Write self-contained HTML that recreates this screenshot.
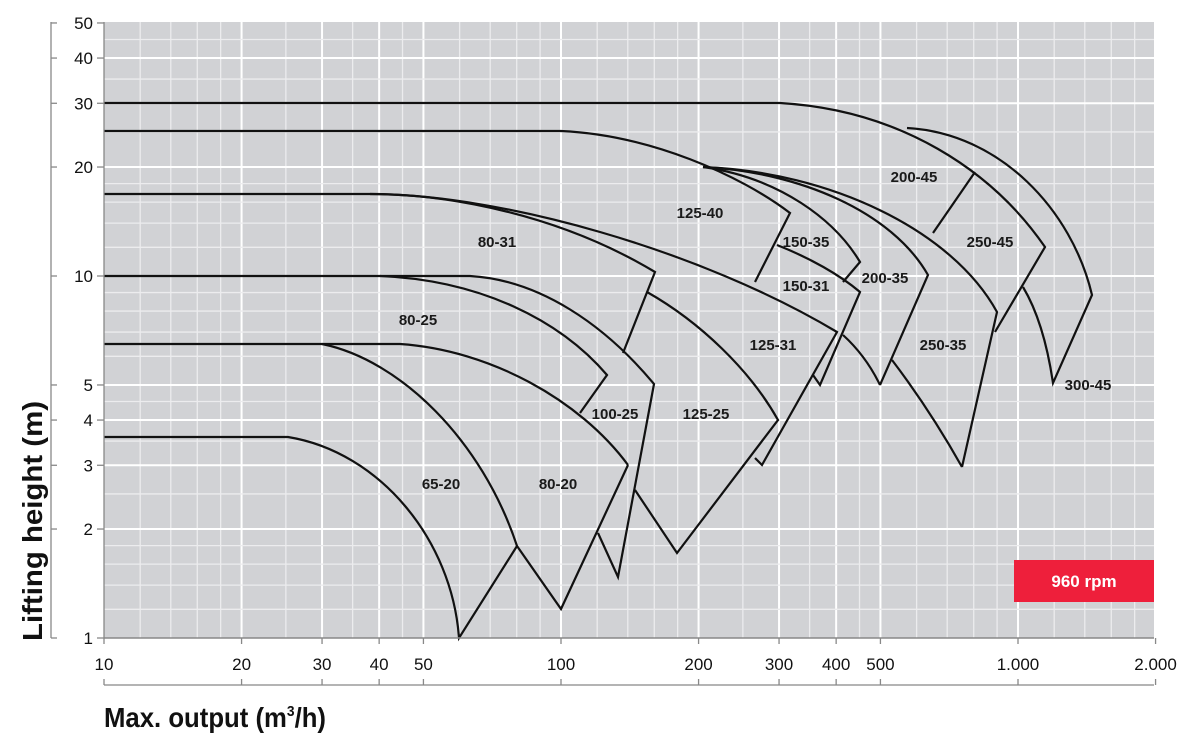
<!DOCTYPE html>
<html><head><meta charset="utf-8"><style>
html,body{margin:0;padding:0;background:#fff;}
svg{display:block;}
.lb{font-family:"Liberation Sans",sans-serif;font-size:15px;font-weight:bold;fill:#1a1a1a;text-anchor:middle;}
.tk{font-family:"Liberation Sans",sans-serif;font-size:17px;fill:#111;}
.ax{font-family:"Liberation Sans Narrow","Liberation Sans",sans-serif;font-weight:bold;font-size:28px;fill:#111;}
</style></head><body>
<svg id="s" width="1200" height="733" viewBox="0 0 1200 733" xmlns="http://www.w3.org/2000/svg">
<rect x="104" y="22" width="1050" height="616" fill="#d1d2d5"/>
<g id="grid"></g>
<g fill="none" stroke="#111" stroke-width="2.2" stroke-linejoin="miter">
<path d="M104,437 L288,437 C380,452 452,540 459,638 L517,546"/>
<path d="M104,344 L322,344 C400,360 482,440 517,546 L561,609 L628,465"/>
<path d="M322,344 L400,344 C490,350 580,400 628,465"/>
<path d="M104,276 L380,276 C480,280 560,320 607,375 L580,413"/>
<path d="M380,276 L470,276 C540,280 605,325 654,384 L618,577 L598,533"/>
<path d="M104,194 L370,194 C450,194 560,215 655,272 L623,353"/>
<path d="M370,194 C500,194 700,250 837,332 L762,465 L755,458"/>
<path d="M647,292 C700,322 750,370 778,420 L677,553 L635,490"/>
<path d="M104,131 L561,131 C650,135 740,175 790,213 L755,282"/>
<path d="M703,167 C780,178 835,220 860,262 L843,282"/>
<path d="M703,167 C800,172 892,212 928,275 L880,385"/>
<path d="M703,167 C830,172 952,230 997,312 L962,467"/>
<path d="M777,245 C810,258 840,275 860,292 L820,385 L813,375"/>
<path d="M843,335 Q866,356 880,385"/>
<path d="M892,360 Q930,410 962,467"/>
<path d="M104,103 L780,103 C900,110 992,170 1045,247 L995,332"/>
<path d="M975,172 L933,233"/>
<path d="M907,128 C1000,133 1072,210 1092,295 L1053,383 Q1044,322 1023,287"/>
</g>
<g class="lb">
<text x="497" y="247">80-31</text>
<text x="700" y="218">125-40</text>
<text x="806" y="247">150-35</text>
<text x="806" y="291">150-31</text>
<text x="885" y="283">200-35</text>
<text x="914" y="182">200-45</text>
<text x="990" y="247">250-45</text>
<text x="418" y="325">80-25</text>
<text x="773" y="350">125-31</text>
<text x="943" y="350">250-35</text>
<text x="1088" y="390">300-45</text>
<text x="615" y="419">100-25</text>
<text x="706" y="419">125-25</text>
<text x="441" y="489">65-20</text>
<text x="558" y="489">80-20</text>
</g>
<rect x="1014" y="560" width="140" height="42" fill="#ee1f3b"/>
<text x="1084" y="587" text-anchor="middle" style="font-family:'Liberation Sans',sans-serif;font-weight:bold;font-size:17px;fill:#fff">960 rpm</text>
<g id="axes" stroke="#888" stroke-width="1.3" fill="none"></g>
<g id="ticks"></g>
<text class="ax" x="104" y="727" textLength="222" lengthAdjust="spacingAndGlyphs">Max. output (m<tspan font-size="15" dy="-11">3</tspan><tspan dy="11">/h)</tspan></text>
<text class="ax" transform="translate(42,641) rotate(-90)" x="0" y="0" textLength="240" lengthAdjust="spacingAndGlyphs">Lifting height (m)</text>
</svg>
<script>
var NS="http://www.w3.org/2000/svg";
function X(v){return 104+457*Math.log10(v/10);}
function Y(v){return 638-362*Math.log10(v);}
function ln(g,x1,y1,x2,y2,c,w){var l=document.createElementNS(NS,"line");l.setAttribute("x1",x1);l.setAttribute("y1",y1);l.setAttribute("x2",x2);l.setAttribute("y2",y2);l.setAttribute("stroke",c);l.setAttribute("stroke-width",w);g.appendChild(l);}
var g=document.getElementById("grid");
var xmin=[12,14,16,18,25,35,45,60,70,80,90,120,140,160,180,250,350,450,600,700,800,900,1200,1400,1600,1800];
var xmaj=[20,30,40,50,100,200,300,400,500,1000];
xmin.forEach(function(v){ln(g,X(v),22,X(v),638,"#ececee",1.3);});
xmaj.forEach(function(v){ln(g,X(v),22,X(v),638,"#ffffff",2);});
var ymin=[1.2,1.4,1.6,1.8,2.5,3.5,4.5,6,7,8,9,12,14,16,18,25,35,45];
var ymaj=[2,3,4,5,10,20,30,40];
ymin.forEach(function(v){ln(g,104,Y(v),1154,Y(v),"#ececee",1.3);});
ymaj.forEach(function(v){ln(g,104,Y(v),1154,Y(v),"#ffffff",2);});
var a=document.getElementById("axes");
ln(a,104,638,1154,638,"#888",1.5);
ln(a,104,22,104,638,"#888",1.3);
ln(a,51,22,51,638,"#888",1.3);
ln(a,104,685,1154,685,"#888",1.3);
var yl=[1,2,3,4,5,10,20,30,40,50];
var t=document.getElementById("ticks");
yl.forEach(function(v){var y=Y(v);ln(a,97,y,104,y,"#888",1.3);ln(a,51,y,57,y,"#888",1.3);
var tx=document.createElementNS(NS,"text");tx.setAttribute("class","tk");tx.setAttribute("x",93);tx.setAttribute("y",y+6);tx.setAttribute("text-anchor","end");tx.textContent=v;t.appendChild(tx);});
var xl=[[10,"10"],[20,"20"],[30,"30"],[40,"40"],[50,"50"],[100,"100"],[200,"200"],[300,"300"],[400,"400"],[500,"500"],[1000,"1.000"],[2000,"2.000"]];
xl.forEach(function(p){var x=X(p[0]);ln(a,x,638,x,644,"#888",1.3);ln(a,x,679,x,685,"#888",1.3);
var tx=document.createElementNS(NS,"text");tx.setAttribute("class","tk");tx.setAttribute("x",x);tx.setAttribute("y",670);tx.setAttribute("text-anchor","middle");tx.textContent=p[1];t.appendChild(tx);});
</script>
</body></html>
